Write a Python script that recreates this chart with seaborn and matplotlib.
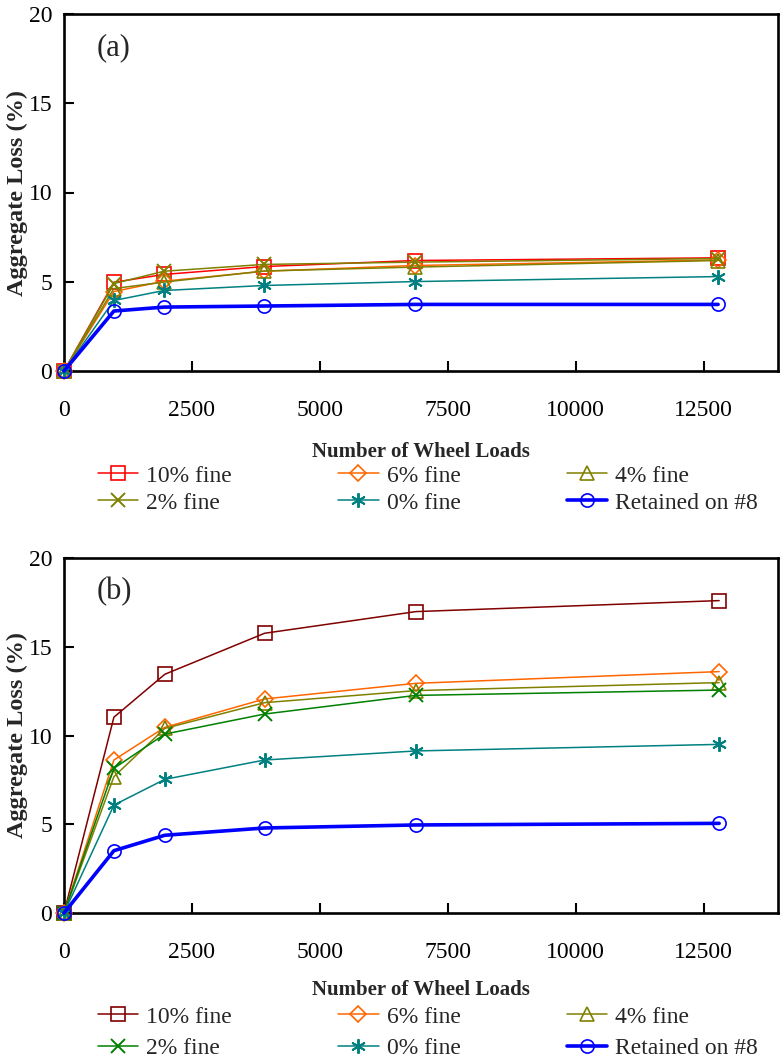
import numpy as np
import pandas as pd
import matplotlib
matplotlib.use("Agg")
import matplotlib.pyplot as plt
import seaborn as sns

# ---------------- data ----------------
wheel_loads_a = [0, 975, 1955, 3905, 6855, 12780]
wheel_loads_b = [0, 975, 1970, 3920, 6875, 12800]

series_names = ["10% fine", "6% fine", "4% fine", "2% fine", "0% fine", "Retained on #8"]

loss_a_10 = [0, 4.97, 5.41, 5.85, 6.19, 6.34]
loss_a_6 = [0, 4.45, 5.03, 5.59, 5.91, 6.22]
loss_a_4 = [0, 4.62, 4.98, 5.60, 5.82, 6.19]
loss_a_2 = [0, 4.90, 5.59, 5.97, 6.10, 6.30]
loss_a_0 = [0, 3.95, 4.51, 4.79, 5.01, 5.29]
loss_a_r8 = [0, 3.36, 3.58, 3.64, 3.73, 3.73]

loss_b_10 = [0, 11.03, 13.45, 15.76, 16.98, 17.60]
loss_b_6 = [0, 8.62, 10.46, 12.06, 12.94, 13.60]
loss_b_4 = [0, 7.68, 10.40, 11.85, 12.53, 12.98]
loss_b_2 = [0, 8.15, 10.08, 11.21, 12.26, 12.56]
loss_b_0 = [0, 6.08, 7.53, 8.62, 9.13, 9.50]
loss_b_r8 = [0, 3.51, 4.38, 4.79, 4.96, 5.05]

x_ticks = [0, 2500, 5000, 7500, 10000, 12500]
y_ticks = [0, 5, 10, 15, 20]

# ---------------- style ----------------
sns.set_theme(style="white")
plt.rcParams["font.family"] = ["Liberation Serif", "DejaVu Serif"]
plt.rcParams["mathtext.fontset"] = "stix"

markers = ["s", "D", "^", "x", (6, 2, 0), "o"]
marker_sizes = [9.5, 8, 9.5, 9.5, 10.5, 9.5]
colors_a = ["#FF0000", "#FF6600", "#808000", "#808000", "#008080", "#0000FF"]
colors_b = ["#800000", "#FF6600", "#808000", "#008000", "#008080", "#0000FF"]
lws = [1.1, 1.1, 1.1, 1.1, 1.1, 2.6]

fig = plt.figure(figsize=(7.84, 10.59), dpi=100)
W, H = 784, 1059


def px_axes(left, top, right, bottom):
    return fig.add_axes([left / W, 1 - bottom / H, (right - left) / W, (bottom - top) / H])


ax_a = px_axes(64, 14, 778, 371)
ax_b = px_axes(64, 558, 778, 913)

panels = [
    (ax_a, wheel_loads_a, [loss_a_10, loss_a_6, loss_a_4, loss_a_2, loss_a_0, loss_a_r8], colors_a, "(a)", 465, 15, 0.24),
    (ax_b, wheel_loads_b, [loss_b_10, loss_b_6, loss_b_4, loss_b_2, loss_b_0, loss_b_r8], colors_b, "(b)", 1006, 12, 0.42),
]

for ax, xs, ys_list, cols, tag, leg_top, xlabpad, lspace in panels:
    for name, ys, col, mk, ms, lw in zip(series_names, ys_list, cols, markers, marker_sizes, lws):
        df = pd.DataFrame({"x": xs, "y": ys})
        mew = 1.4 if mk in ("x", (6, 2, 0)) else 1.2
        sns.lineplot(data=df, x="x", y="y", ax=ax, color=col, linewidth=lw,
                     marker=mk, markersize=ms, markerfacecolor="none",
                     markeredgecolor=col, markeredgewidth=mew,
                     estimator=None, sort=False, label=name, legend=False,
                     clip_on=False, zorder=3)
    ax.set_xlim(0, 13950)
    ax.set_ylim(0, 20)
    ax.set_xticks(x_ticks)
    ax.set_xticklabels([str(v) for v in x_ticks])
    ax.set_yticks(y_ticks)
    ax.set_yticklabels([str(v) for v in y_ticks])
    ax.tick_params(axis="both", direction="in", length=7, width=1.5, labelsize=17,
                   colors="black", bottom=True, left=True, top=False, right=False)
    ax.tick_params(axis="x", pad=21)
    ax.tick_params(axis="y", pad=8.5)
    for sp in ax.spines.values():
        sp.set_visible(True)
        sp.set_color("black")
        sp.set_linewidth(1.9)
    ax.set_xlabel("Number of Wheel Loads", fontsize=15, fontweight="bold", labelpad=xlabpad)
    ax.set_ylabel("Aggregate Loss (%)", fontsize=17.5, fontweight="bold", labelpad=0.5)
    ax.text(0.046, 0.905, tag, transform=ax.transAxes, fontsize=22, va="center", ha="left")
    ax.grid(False)

    handles, labels = ax.get_legend_handles_labels()
    order = [0, 3, 1, 4, 2, 5]
    ax.legend([handles[i] for i in order], [labels[i] for i in order],
              loc="upper left", bbox_to_anchor=(98 / W, 1 - leg_top / H),
              bbox_transform=fig.transFigure, ncol=3, frameon=False,
              fontsize=17, borderpad=0, borderaxespad=0, handlelength=1.7,
              handletextpad=0.35, columnspacing=4.5, labelspacing=lspace)

fig.savefig("out.png", dpi=100)
